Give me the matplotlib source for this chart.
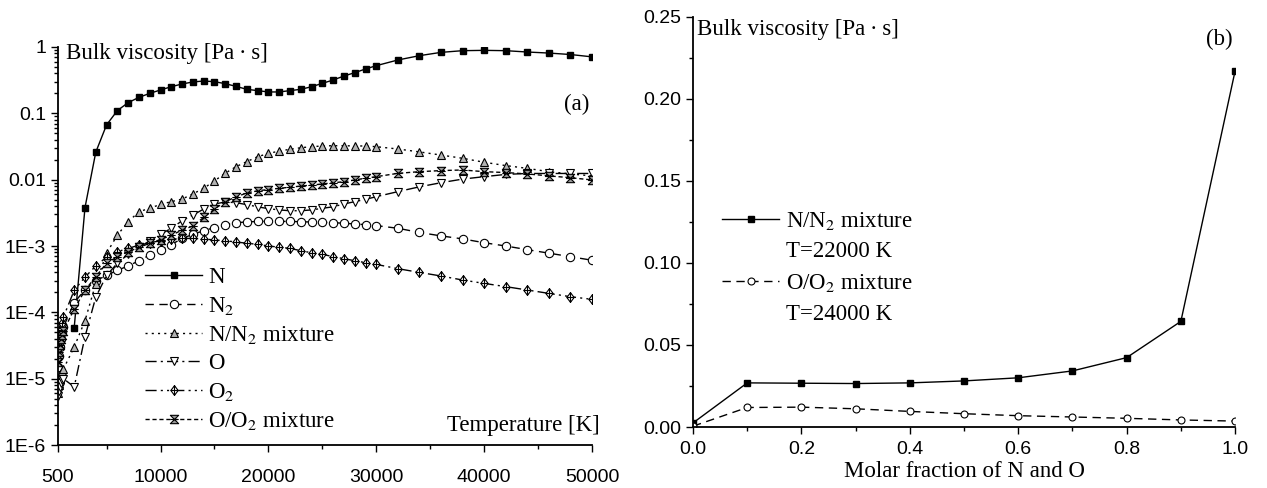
import matplotlib
matplotlib.use("Agg")
import matplotlib.pyplot as plt
from matplotlib.path import Path
from matplotlib.lines import Line2D
from matplotlib.ticker import FixedLocator, MultipleLocator, FormatStrFormatter, NullFormatter

plt.rcParams['mathtext.fontset'] = 'stix'
plt.rcParams['font.family'] = 'Liberation Serif'

# panel (a): bulk viscosity vs temperature
temp = [500, 600, 700, 800, 900, 1000,
        2000, 3000, 4000, 5000, 6000, 7000, 8000, 9000, 10000,
        11000, 12000, 13000, 14000, 15000, 16000, 17000, 18000, 19000, 20000,
        21000, 22000, 23000, 24000, 25000, 26000, 27000, 28000, 29000, 30000,
        32000, 34000, 36000, 38000, 40000, 42000, 44000, 46000, 48000, 50000]

visc_N = [5.9e-5, 3.8e-3, 0.026, 0.067, 0.11, 0.145, 0.174, 0.20, 0.225,
          0.252, 0.277, 0.297, 0.307, 0.300, 0.280, 0.255, 0.230, 0.220, 0.210,
          0.210, 0.220, 0.230, 0.252, 0.283, 0.318, 0.365, 0.41, 0.466, 0.523,
          0.637, 0.74, 0.83, 0.88, 0.89, 0.88, 0.84, 0.81, 0.77, 0.71]
visc_N2 = [1.5e-5, 2.2e-5, 3.0e-5, 4.0e-5, 5.0e-5, 6.0e-5,
           1.4e-4, 2.2e-4, 3.0e-4, 3.6e-4, 4.3e-4, 5.0e-4, 6.0e-4, 7.3e-4, 8.6e-4,
           1.05e-3, 1.3e-3, 1.5e-3, 1.7e-3, 1.9e-3, 2.1e-3, 2.25e-3, 2.3e-3, 2.35e-3, 2.35e-3,
           2.35e-3, 2.35e-3, 2.32e-3, 2.3e-3, 2.28e-3, 2.25e-3, 2.2e-3, 2.15e-3, 2.1e-3, 2.03e-3,
           1.85e-3, 1.6e-3, 1.42e-3, 1.28e-3, 1.12e-3, 1.0e-3, 8.8e-4, 7.8e-4, 6.9e-4, 6.1e-4]
visc_NN2 = [6e-6, 8e-6, 1.0e-5, 1.2e-5, 1.3e-5, 1.4e-5,
            3.0e-5, 7.5e-5, 2.7e-4, 7.8e-4, 1.46e-3, 2.32e-3, 3.29e-3, 3.7e-3, 4.25e-3,
            4.66e-3, 5.1e-3, 6.1e-3, 7.4e-3, 9.6e-3, 0.0125, 0.0157, 0.0187, 0.0222, 0.0248,
            0.027, 0.0287, 0.0303, 0.0314, 0.0322, 0.0325, 0.0325, 0.0322, 0.0322, 0.0314,
            0.029, 0.0262, 0.0235, 0.021, 0.0183, 0.0163, 0.0148, 0.0132, 0.0122, 0.0114]
visc_O = [5.5e-6, 6.5e-6, 7.5e-6, 8.5e-6, 9.5e-6, 1.0e-5,
          7.5e-6, 4.3e-5, 1.7e-4, 3.6e-4, 5.5e-4, 7.5e-4, 9.5e-4, 1.2e-3, 1.5e-3,
          1.85e-3, 2.4e-3, 2.93e-3, 3.6e-3, 4.3e-3, 4.6e-3, 4.5e-3, 4.2e-3, 3.9e-3, 3.65e-3,
          3.5e-3, 3.4e-3, 3.4e-3, 3.5e-3, 3.7e-3, 3.9e-3, 4.3e-3, 4.66e-3, 5.05e-3, 5.54e-3,
          6.6e-3, 7.8e-3, 9.0e-3, 0.0102, 0.0111, 0.012, 0.0124, 0.0124, 0.0124, 0.0124]
visc_O2 = [2.0e-5, 3.0e-5, 4.0e-5, 5.5e-5, 7.0e-5, 8.5e-5,
           2.15e-4, 3.4e-4, 5.0e-4, 6.8e-4, 8.2e-4, 9.2e-4, 1.03e-3, 1.12e-3, 1.2e-3,
           1.26e-3, 1.3e-3, 1.3e-3, 1.28e-3, 1.23e-3, 1.2e-3, 1.15e-3, 1.1e-3, 1.06e-3, 1.0e-3,
           9.6e-4, 9.2e-4, 8.5e-4, 7.9e-4, 7.5e-4, 6.9e-4, 6.44e-4, 6.0e-4, 5.6e-4, 5.28e-4,
           4.55e-4, 4.0e-4, 3.53e-4, 3.07e-4, 2.73e-4, 2.44e-4, 2.17e-4, 1.93e-4, 1.72e-4, 1.57e-4]
visc_OO2 = [1.8e-5, 2.5e-5, 3.2e-5, 4.0e-5, 4.6e-5, 5.2e-5,
            1.12e-4, 2.15e-4, 3.45e-4, 5.5e-4, 6.9e-4, 8.2e-4, 9.5e-4, 1.1e-3, 1.25e-3,
            1.45e-3, 1.74e-3, 2.0e-3, 2.7e-3, 3.6e-3, 4.66e-3, 5.5e-3, 6.3e-3, 6.8e-3, 7.1e-3,
            7.4e-3, 7.7e-3, 8.0e-3, 8.3e-3, 8.6e-3, 9.0e-3, 9.3e-3, 9.9e-3, 0.0105, 0.0111,
            0.01245, 0.0132, 0.0137, 0.014, 0.0132, 0.0128, 0.0122, 0.0114, 0.0107, 0.0099]

xticks_a = [500, 10000, 20000, 30000, 40000, 50000]
yticks_a = [1e-6, 1e-5, 1e-4, 1e-3, 1e-2, 1e-1, 1]
ylabels_a = ['1E-6', '1E-5', '1E-4', '1E-3', '0.01', '0.1', '1']

# panel (b): bulk viscosity vs molar fraction
frac = [0.0, 0.1, 0.2, 0.3, 0.4, 0.5, 0.6, 0.7, 0.8, 0.9, 1.0]
visc_mixN = [0.0025, 0.0269, 0.0267, 0.0265, 0.0269, 0.0281, 0.030, 0.0342, 0.0423, 0.0644, 0.217]
visc_mixO = [0.0005, 0.0119, 0.0121, 0.0111, 0.0095, 0.0081, 0.0069, 0.0061, 0.0053, 0.0043, 0.0036]

# custom markers
cross_diamond = Path([(0, 1), (0.75, 0), (0, -1), (-0.75, 0), (0, 1),
                      (0, 1), (0, -1), (-0.75, 0), (0.75, 0)],
                     [Path.MOVETO, Path.LINETO, Path.LINETO, Path.LINETO, Path.CLOSEPOLY,
                      Path.MOVETO, Path.LINETO, Path.MOVETO, Path.LINETO])
hourglass = Path([(-1, 1), (1, 1), (-1, -1), (1, -1), (-1, 1),
                  (-1, 0), (1, 0)],
                 [Path.MOVETO, Path.LINETO, Path.LINETO, Path.LINETO, Path.CLOSEPOLY,
                  Path.MOVETO, Path.LINETO])

SANS = 'Liberation Sans'
TICK_FS = 14
TEXT_FS = 16.5
LABEL = 'Bulk viscosity [Pa\u2009\u00b7\u2009s]'

fig = plt.figure(figsize=(12.67, 4.88), dpi=100)
ax1 = fig.add_axes([0.0458, 0.0881, 0.4215, 0.8156])
ax2 = fig.add_axes([0.547, 0.125, 0.4278, 0.8402])

lw = 1.0
ax1.plot(temp[6:], visc_N, ls='-', color='k', lw=lw, marker='s', ms=5,
         mfc='k', mec='k', label='N')
ax1.plot(temp, visc_N2, ls=(0, (6, 4)), color='k', lw=lw, marker='o', ms=6,
         mfc='white', mec='k', mew=0.8, label='N$_2$')
ax1.plot(temp, visc_NN2, ls=(0, (1.5, 3)), color='k', lw=lw, marker='^', ms=6,
         mfc='0.7', mec='k', mew=0.8, label='N/N$_2$ mixture')
ax1.plot(temp, visc_O, ls=(0, (8, 3, 1.5, 3)), color='k', lw=lw, marker='v', ms=6,
         mfc='white', mec='k', mew=0.8, label='O')
ax1.plot(temp, visc_O2, ls=(0, (8, 3, 1.5, 3, 1.5, 3)), color='k', lw=lw, marker=cross_diamond,
         ms=7, mfc='white', mec='k', mew=0.8, label='O$_2$')
ax1.plot(temp, visc_OO2, ls=(0, (3, 2)), color='k', lw=lw, marker=hourglass, ms=6,
         mfc='0.6', mec='k', mew=0.8, label='O/O$_2$ mixture')

ax1.set_yscale('log')
ax1.set_xlim(500, 50000)
ax1.set_ylim(1e-6, 1)
ax1.xaxis.set_major_locator(FixedLocator(xticks_a))
ax1.set_xticklabels([str(v) for v in xticks_a])
ax1.xaxis.set_minor_locator(MultipleLocator(5000))
ax1.yaxis.set_major_locator(FixedLocator(yticks_a))
ax1.set_yticklabels(ylabels_a)
ax1.yaxis.set_minor_locator(matplotlib.ticker.LogLocator(base=10, subs=range(2, 10), numticks=20))
ax1.yaxis.set_minor_formatter(NullFormatter())

ax1.legend(loc='upper left', bbox_to_anchor=(0.163, 0.447), frameon=False,
           prop={'family': 'Liberation Serif', 'size': TEXT_FS},
           handlelength=2.5, handletextpad=0.25, labelspacing=0.3, borderpad=0,
           borderaxespad=0)

ax1.text(0.015, 1.01, LABEL, transform=ax1.transAxes,
         ha='left', va='top', fontsize=TEXT_FS)
ax1.text(0.995, 0.855, '(a)', transform=ax1.transAxes, ha='right', va='center', fontsize=TEXT_FS)
ax1.text(1.015, 0.05, 'Temperature [K]', transform=ax1.transAxes, ha='right', va='center',
         fontsize=TEXT_FS)

ax2.plot(frac, visc_mixN, ls='-', color='k', lw=lw, marker='s', ms=5, mfc='k', mec='k')
ax2.plot(frac, visc_mixO, ls=(0, (6, 4)), color='k', lw=lw, marker='o', ms=5,
         mfc='white', mec='k', mew=0.8)
ax2.set_xlim(0, 1)
ax2.set_ylim(0, 0.25)
ax2.xaxis.set_major_locator(MultipleLocator(0.2))
ax2.xaxis.set_minor_locator(MultipleLocator(0.1))
ax2.xaxis.set_major_formatter(FormatStrFormatter('%.1f'))
ax2.yaxis.set_major_locator(MultipleLocator(0.05))
ax2.yaxis.set_minor_locator(MultipleLocator(0.025))
ax2.yaxis.set_major_formatter(FormatStrFormatter('%.2f'))
ax2.set_xlabel('Molar fraction of N and O', fontsize=TEXT_FS, labelpad=2)

h_n = Line2D([], [], ls='-', color='k', lw=lw, marker='s', ms=5, mfc='k', mec='k')
h_o = Line2D([], [], ls=(0, (6, 4)), color='k', lw=lw, marker='o', ms=5, mfc='white', mec='k', mew=0.8)
h_blank = Line2D([], [], ls='none')
ax2.legend([h_n, h_blank, h_o, h_blank],
           ['N/N$_2$ mixture', 'T=22000 K', 'O/O$_2$ mixture', 'T=24000 K'],
           loc='upper left', bbox_to_anchor=(0.0535, 0.53), frameon=False,
           prop={'family': 'Liberation Serif', 'size': TEXT_FS},
           handlelength=2.5, handletextpad=0.3, labelspacing=0.42, borderpad=0,
           borderaxespad=0)

ax2.text(0.008, 0.995, LABEL, transform=ax2.transAxes,
         ha='left', va='top', fontsize=TEXT_FS)
ax2.text(0.995, 0.945, '(b)', transform=ax2.transAxes, ha='right', va='center', fontsize=TEXT_FS)

for ax in (ax1, ax2):
    for side in ('top', 'right'):
        ax.spines[side].set_visible(False)
    for side in ('left', 'bottom'):
        ax.spines[side].set_linewidth(1.3)
    ax.tick_params(which='both', direction='out', width=1.0)
    ax.tick_params(which='major', length=5)
    ax.tick_params(which='minor', length=3)
    for lab in ax.get_xticklabels() + ax.get_yticklabels():
        lab.set_fontfamily(SANS)
        lab.set_fontsize(TICK_FS)
ax1.tick_params(axis='x', which='major', pad=12)
ax2.tick_params(axis='x', which='major', pad=5)

fig.savefig('out.png', dpi=100)
